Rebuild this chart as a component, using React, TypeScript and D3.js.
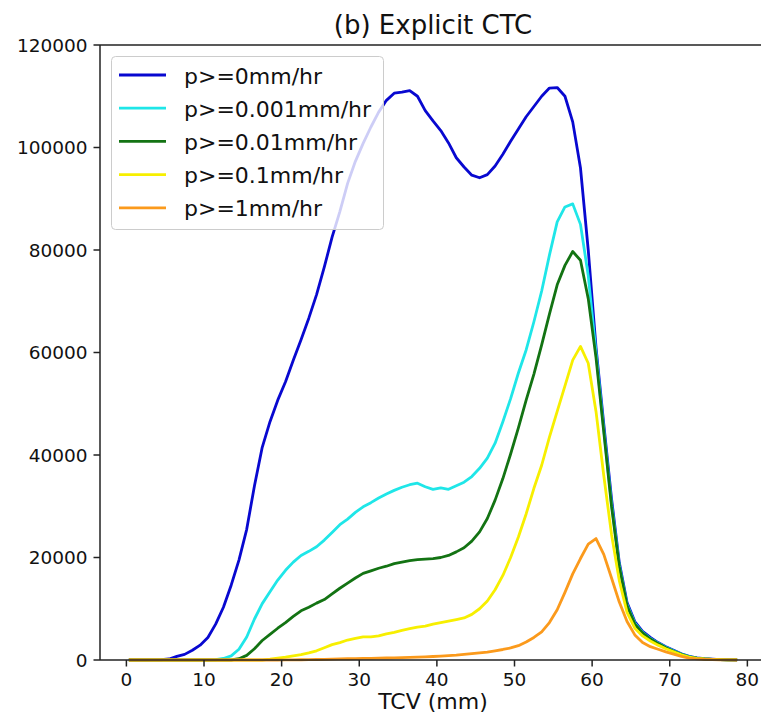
import React from "react";
import * as d3 from "d3";

// TCV bin centres (mm)
const tcv: number[] = Array.from({ length: 79 }, (_, i) => i + 0.5);

const p0: number[] = [
  0, 0, 0, 10, 50, 200, 700, 1100, 1900, 2900,
  4400, 7000, 10300, 14600, 19500, 25500, 34000, 41500, 46500, 50700,
  54300, 58500, 62500, 66700, 71300, 76700, 82500, 87500, 93000, 97300,
  100800, 104000, 106900, 109200, 110600, 110800, 111100, 110000, 107200, 105200,
  103300, 100900, 98000, 96200, 94600, 94100, 94700, 96400, 98700, 101200,
  103600, 106000, 108000, 110000, 111600, 111700, 110000, 105000, 96000, 80000,
  61000, 46000, 31500, 19000, 11200, 7500, 5600, 4400, 3400, 2600,
  1900, 1200, 700, 400, 250, 150, 80, 40, 10,
];

const p0001: number[] = [
  0, 0, 0, 0, 0, 0, 0, 0, 0, 0,
  0, 50, 300, 800, 2100, 4500, 8000, 11000, 13300, 15600,
  17500, 19100, 20400, 21200, 22100, 23400, 24900, 26400, 27500, 28800,
  29900, 30700, 31600, 32400, 33100, 33700, 34200, 34500, 33800, 33300,
  33600, 33300, 34000, 34700, 35800, 37400, 39400, 42300, 46500, 51000,
  56000, 60500, 66000, 72000, 79000, 85500, 88400, 89000, 85000, 75000,
  60000, 45000, 30500, 18500, 10800, 7200, 5400, 4200, 3300, 2500,
  1800, 1150, 650, 380, 230, 140, 70, 35, 10,
];

const p001: number[] = [
  0, 0, 0, 0, 0, 0, 0, 0, 0, 0,
  0, 0, 0, 0, 250, 900, 2200, 3800, 5000, 6200,
  7300, 8500, 9600, 10300, 11100, 11800, 12900, 14000, 15000, 16000,
  16900, 17400, 17900, 18300, 18800, 19100, 19400, 19600, 19700, 19800,
  20000, 20400, 21100, 21900, 23200, 25000, 27600, 31200, 35400, 40200,
  45300, 50700, 55800, 61500, 67500, 73200, 77000, 79700, 78000, 70500,
  59000, 44500, 30000, 18200, 10600, 7000, 5300, 4100, 3200, 2400,
  1700, 1100, 620, 360, 220, 130, 65, 30, 10,
];

const p01: number[] = [
  0, 0, 0, 0, 0, 0, 0, 0, 0, 0,
  0, 0, 0, 0, 0, 0, 0, 0, 150, 350,
  550, 800, 1050, 1400, 1800, 2400, 3000, 3400, 3900, 4200,
  4500, 4500, 4700, 5100, 5400, 5800, 6100, 6400, 6600, 7000,
  7300, 7600, 7900, 8200, 8900, 10000, 11500, 13700, 16500, 20000,
  24000, 28500, 33500, 38000, 43500, 48500, 53500, 58500, 61200, 57900,
  48500, 36000, 24500, 15500, 9300, 6200, 4700, 3700, 2900, 2200,
  1600, 1000, 550, 320, 200, 120, 60, 30, 10,
];

const p1: number[] = [
  0, 0, 0, 0, 0, 0, 0, 0, 0, 0,
  0, 0, 0, 0, 0, 0, 0, 0, 0, 0,
  20, 30, 50, 70, 100, 130, 160, 200, 240, 280,
  300, 330, 360, 390, 420, 460, 500, 550, 610, 680,
  760, 850, 950, 1100, 1250, 1400, 1550, 1800, 2050, 2350,
  2800, 3500, 4400, 5500, 7300, 9800, 13200, 16800, 19800, 22600,
  23700, 20600, 16000, 11300, 7500, 4900, 3400, 2600, 2100, 1600,
  1150, 700, 350, 200, 120, 70, 40, 20, 5,
];

const seriesNames: string[] = [
  "p>=0mm/hr",
  "p>=0.001mm/hr",
  "p>=0.01mm/hr",
  "p>=0.1mm/hr",
  "p>=1mm/hr",
];
const seriesColors: string[] = ["#0808d0", "#1fe6e8", "#137313", "#f7ef00", "#fb9a1c"];
const seriesValues: number[][] = [p0, p0001, p001, p01, p1];

const xTicks: number[] = [0, 10, 20, 30, 40, 50, 60, 70, 80];
const yTicks: number[] = [0, 20000, 40000, 60000, 80000, 100000, 120000];

const W = 761;
const H = 722;
const FONT = "'DejaVu Sans', sans-serif";

export default function App() {
  const left = 100;
  const right = 766;
  const top = 45;
  const bottom = 660;
  const xDomain: [number, number] = [-3.4, 82.4];

  const x = d3.scaleLinear().domain(xDomain).range([left, right]);
  const y = d3.scaleLinear().domain([0, 120000]).range([bottom, top]);

  const line = d3
    .line<[number, number]>()
    .x((d) => x(d[0]))
    .y((d) => y(d[1]));

  const legendX = 111.5;
  const legendY = 56.5;
  const legendW = 272;
  const legendH = 173;
  const rowY0 = 75;
  const rowStep = 33.2;

  return (
    <svg
      width={W}
      height={H}
      style={{ position: "absolute", left: 0, top: 0, background: "#fff" }}
      xmlns="http://www.w3.org/2000/svg"
    >
      <rect x={0} y={0} width={W} height={H} fill="#fff" />
      {/* title */}
      <text
        x={(left + right) / 2}
        y={34}
        textAnchor="middle"
        fontFamily={FONT}
        fontSize={26}
        fill="#111"
      >
        (b) Explicit CTC
      </text>

      {/* series */}
      <g>
        {seriesValues.map((vals, si) => (
          <path
            key={si}
            d={line(tcv.map((t, i) => [t, vals[i]] as [number, number])) || ""}
            fill="none"
            stroke={seriesColors[si]}
            strokeWidth={2.8}
            strokeLinejoin="round"
            strokeLinecap="square"
          />
        ))}
      </g>

      {/* spines */}
      <g stroke="#222" strokeWidth={1.5} fill="none">
        <line x1={left} y1={top} x2={left} y2={bottom} />
        <line x1={left} y1={bottom} x2={right} y2={bottom} />
        <line x1={left} y1={top} x2={right} y2={top} />
        <line x1={right} y1={top} x2={right} y2={bottom} />
      </g>

      {/* x ticks */}
      <g>
        {xTicks.map((t) => (
          <g key={t}>
            <line x1={x(t)} x2={x(t)} y1={bottom} y2={bottom + 6.5} stroke="#222" strokeWidth={1.5} />
            <text
              x={x(t)}
              y={685.5}
              textAnchor="middle"
              fontFamily={FONT}
              fontSize={18.5}
              fill="#111"
            >
              {t}
            </text>
          </g>
        ))}
      </g>

      {/* y ticks */}
      <g>
        {yTicks.map((t) => (
          <g key={t}>
            <line x1={left - 6.5} x2={left} y1={y(t)} y2={y(t)} stroke="#222" strokeWidth={1.5} />
            <text
              x={87.5}
              y={y(t) + 6.7}
              textAnchor="end"
              fontFamily={FONT}
              fontSize={18.5}
              fill="#111"
            >
              {t}
            </text>
          </g>
        ))}
      </g>

      {/* x label */}
      <text
        x={(left + right) / 2}
        y={709}
        textAnchor="middle"
        fontFamily={FONT}
        fontSize={22}
        fill="#111"
      >
        TCV (mm)
      </text>

      {/* legend */}
      <g>
        <rect
          x={legendX}
          y={legendY}
          width={legendW}
          height={legendH}
          rx={4}
          ry={4}
          fill="#fff"
          fillOpacity={0.8}
          stroke="#cccccc"
          strokeWidth={1}
        />
        {seriesNames.map((name, i) => {
          const ry = rowY0 + i * rowStep;
          return (
            <g key={name}>
              <line
                x1={119}
                x2={166}
                y1={ry}
                y2={ry}
                stroke={seriesColors[i]}
                strokeWidth={2.8}
              />
              <text x={184} y={ry + 8.5} fontFamily={FONT} fontSize={22} fill="#111">
                {name}
              </text>
            </g>
          );
        })}
      </g>
    </svg>
  );
}
